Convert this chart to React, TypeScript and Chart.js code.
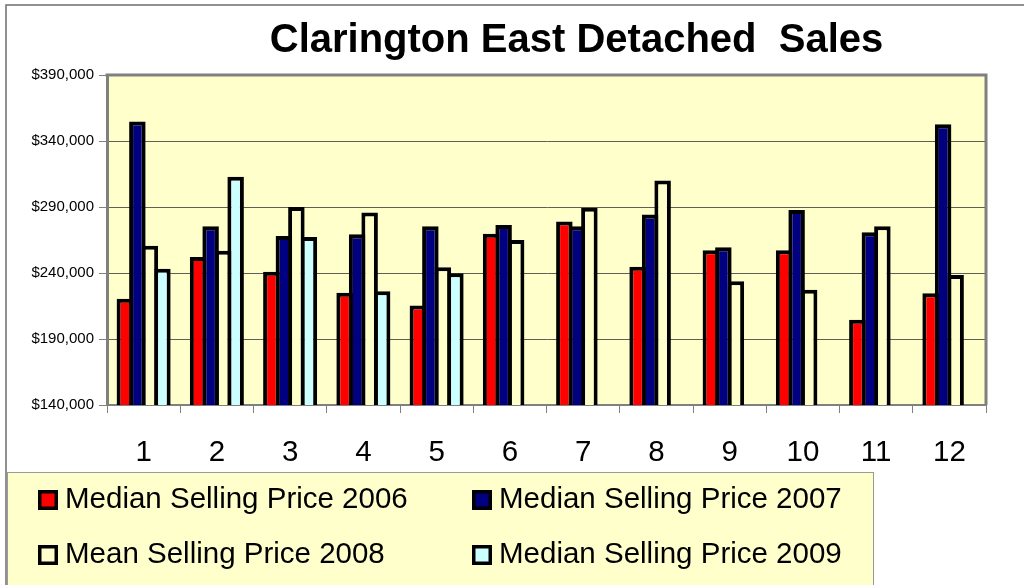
import React, { useEffect, useRef } from 'react';
import { Chart, registerables } from 'chart.js';

Chart.register(...registerables);

const chartTitle = 'Clarington East Detached  Sales';
const categories = ['1', '2', '3', '4', '5', '6', '7', '8', '9', '10', '11', '12'];
const seriesLabels = [
  'Median Selling Price 2006',
  'Median Selling Price 2007',
  'Mean Selling Price 2008',
  'Median Selling Price 2009',
];
const seriesColors = ['#FF0000', '#000080', '#FFFFCC', '#CCFFFF'];

const median2006 = [220400, 252100, 241000, 225100, 215300, 269800, 279100, 244800, 257200, 257200, 204500, 224700];
const median2007 = [354800, 275400, 268000, 269300, 275400, 276300, 275400, 284400, 259500, 287700, 270800, 352700];
const mean2008 = [260700, 256900, 290000, 285900, 244400, 265000, 289400, 310100, 233800, 227400, 275400, 238500];
const median2009 = [243300, 312900, 267300, 226200, 239800, null, null, null, null, null, null, null];

const yMin = 140000;
const yMax = 390000;
const yStep = 50000;

const FONT = '"Liberation Sans", Arial, sans-serif';

const decorPlugin = {
  id: 'decor',
  beforeDraw(chart: any) {
    const { ctx, chartArea: a } = chart;
    ctx.save();
    ctx.fillStyle = '#FFFFFF';
    ctx.fillRect(0, 0, chart.width, chart.height);
    // outer frame
    ctx.strokeStyle = '#6e6e6e';
    ctx.lineWidth = 1.5;
    ctx.beginPath();
    ctx.moveTo(6, chart.height);
    ctx.lineTo(6, 5);
    ctx.lineTo(chart.width, 5);
    ctx.stroke();
    // plot background
    ctx.fillStyle = '#FFFFCC';
    ctx.fillRect(a.left, a.top, a.right - a.left, a.bottom - a.top);
    // legend box
    ctx.fillStyle = '#FFFFCC';
    ctx.fillRect(7, 472, 866, 130);
    ctx.strokeStyle = '#9a9a9a';
    ctx.lineWidth = 1;
    ctx.strokeRect(7.5, 472.5, 866, 130);
    // title
    ctx.fillStyle = '#000000';
    ctx.font = 'bold 40px ' + FONT;
    ctx.textAlign = 'center';
    ctx.textBaseline = 'alphabetic';
    ctx.fillText(chartTitle, 576.5, 52);
    ctx.restore();
  },
  afterDatasetsDraw(chart: any) {
    const { ctx, chartArea: a } = chart;
    ctx.save();
    ctx.strokeStyle = '#808080';
    ctx.lineWidth = 3;
    ctx.beginPath();
    ctx.moveTo(a.left - 1.5, a.top);
    ctx.lineTo(a.right, a.top);
    ctx.lineTo(a.right, a.bottom);
    ctx.stroke();
    ctx.restore();
  },
  afterDraw(chart: any) {
    const { ctx } = chart;
    const pos = [
      [38, 500],
      [472, 500],
      [38, 555],
      [472, 555],
    ];
    ctx.save();
    chart.data.datasets.forEach((ds: any, i: number) => {
      const [x, y] = pos[i];
      ctx.fillStyle = '#000000';
      ctx.fillRect(x, y - 10, 20, 20);
      ctx.fillStyle = ds.backgroundColor;
      ctx.fillRect(x + 3.5, y - 6.5, 13, 13);
      ctx.fillStyle = '#000000';
      ctx.font = '29.5px ' + FONT;
      ctx.textAlign = 'left';
      ctx.textBaseline = 'middle';
      ctx.fillText(ds.label, x + 27, y);
    });
    ctx.restore();
  },
};

export default function App() {
  const canvasRef = useRef<HTMLCanvasElement | null>(null);

  useEffect(() => {
    if (!canvasRef.current) return;
    const seriesData = [median2006, median2007, mean2008, median2009];
    const chart = new Chart(canvasRef.current, {
      type: 'bar',
      data: {
        labels: categories,
        datasets: seriesData.map((d, i) => ({
          label: seriesLabels[i],
          data: d,
          backgroundColor: seriesColors[i],
          borderColor: '#000000',
          borderWidth: 4,
          borderSkipped: false,
          inflateAmount: 0,
          categoryPercentage: 0.683,
          barPercentage: 1.32,
        })),
      },
      options: {
        responsive: false,
        animation: false,
        devicePixelRatio: 1,
        layout: { padding: { top: 75, right: 38, left: 0, bottom: 0 } },
        plugins: {
          legend: { display: false },
          title: { display: false },
          tooltip: { enabled: false },
        },
        scales: {
          x: {
            type: 'category',
            afterFit: (scale: any) => {
              scale.height = 180;
            },
            grid: {
              display: true,
              offset: true,
              drawOnChartArea: false,
              drawTicks: true,
              tickLength: 8,
              color: '#808080',
              lineWidth: 1,
            },
            border: { display: true, color: '#808080', width: 2 },
            ticks: {
              color: '#000000',
              font: { family: FONT, size: 29.5 },
              padding: 22,
              maxRotation: 0,
              autoSkip: false,
            },
          },
          y: {
            min: yMin,
            max: yMax,
            afterFit: (scale: any) => {
              scale.width = 107;
            },
            grid: {
              color: '#5f5f55',
              lineWidth: 1,
              drawTicks: true,
              tickLength: 8,
              tickColor: '#808080',
            },
            border: { display: true, color: '#808080', width: 3 },
            ticks: {
              stepSize: yStep,
              color: '#000000',
              padding: 5,
              font: { family: FONT, size: 15 },
              callback: (v: any) => '$' + Number(v).toLocaleString('en-US'),
            },
          },
        },
      },
      plugins: [decorPlugin],
    });
    return () => chart.destroy();
  }, []);

  return (
    <div style={{ position: 'fixed', left: 0, top: 0, width: 1024, height: 585, background: '#fff' }}>
      <canvas ref={canvasRef} width={1024} height={585} style={{ display: 'block' }} />
    </div>
  );
}
